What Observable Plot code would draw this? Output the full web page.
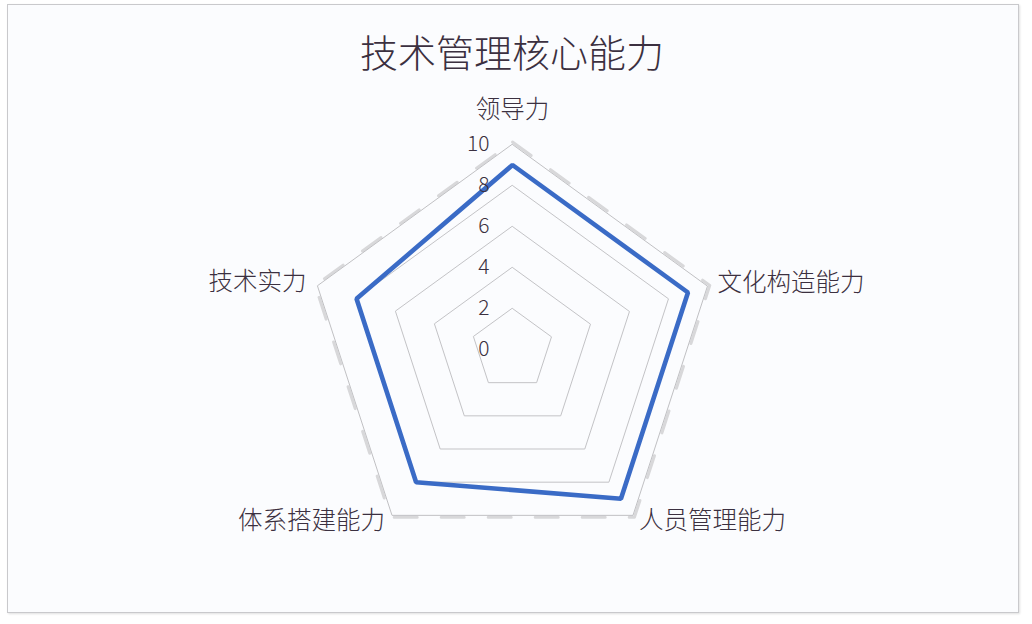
<!DOCTYPE html>
<html><head><meta charset="utf-8">
<script src="https://cdn.jsdelivr.net/npm/d3@7"></script>
<script src="https://cdn.jsdelivr.net/npm/@observablehq/plot@0.6"></script>
<style>
html,body{margin:0;padding:0;background:#ffffff;width:1032px;height:624px;overflow:hidden;}
#frame{position:absolute;left:7px;top:4px;width:1010px;height:607px;border:1px solid #c9c9cc;background:#fbfcfe;box-shadow:1px 1px 2px rgba(0,0,0,0.12);}
#title{position:absolute;left:0;top:26px;width:1024px;text-align:center;font-family:"Noto Sans CJK SC";font-size:38px;font-weight:300;color:#3b3040;line-height:50px;}
#chart{position:absolute;left:0;top:90px;}
</style></head>
<body>
<div id="frame"></div>
<div id="title">技术管理核心能力</div>
<div id="chart"></div>
<script>
const categories = ["领导力", "文化构造能力", "人员管理能力", "体系搭建能力", "技术实力"];
const values = [9, 9, 9, 8, 8];
const ticks = [0, 2, 4, 6, 8, 10];

const n = categories.length;
const ang = i => i * 2 * Math.PI / n;
const px = (r, i) => r * Math.sin(ang(i));
const py = (r, i) => r * Math.cos(ang(i));

const maxTick = d3.max(ticks);
const rings = ticks.filter(t => t > 0 && t < maxTick).flatMap(t => categories.map((c, i) => ({t, i})));
const outer = categories.map((c, i) => ({i}));
const series = categories.map((c, i) => ({c, i, v: values[i]}));

const labelStyle = [
  {dx: 0, dy: -34, anchor: "middle"},
  {dx: 10, dy: -3, anchor: "start"},
  {dx: 6, dy: 6, anchor: "start"},
  {dx: -7, dy: 6, anchor: "end"},
  {dx: -11, dy: -4, anchor: "end"}
];

const labelMarks = series.map((d, k) => Plot.text([d], {
  x: d => px(maxTick, d.i), y: d => py(maxTick, d.i), text: "c",
  dx: labelStyle[k].dx, dy: labelStyle[k].dy, textAnchor: labelStyle[k].anchor,
  fontSize: 24.5, fontWeight: 300, fill: "#3b3040"
}));

const chart = Plot.plot({
  width: 1032, height: 520,
  marginLeft: 307, marginRight: 315, marginTop: 54, marginBottom: 56,
  x: {domain: [-maxTick, maxTick], axis: null},
  y: {domain: [-maxTick, maxTick], axis: null},
  style: {background: "transparent", fontFamily: "'Noto Sans CJK SC', sans-serif", overflow: "visible"},
  marks: [
    Plot.line(rings, {x: d => px(d.t, d.i), y: d => py(d.t, d.i), z: "t", curve: "linear-closed", stroke: "#c3c3c6", strokeWidth: 1}),
    Plot.line(outer, {x: d => px(maxTick * 1.012, d.i), y: d => py(maxTick * 1.012, d.i), curve: "linear-closed", stroke: "#d8d8da", strokeWidth: 3, strokeDasharray: "23,24"}),
    Plot.line(outer, {x: d => px(maxTick, d.i), y: d => py(maxTick, d.i), curve: "linear-closed", stroke: "#c0c0c3", strokeWidth: 1}),
    Plot.line(series, {x: d => px(d.v, d.i), y: d => py(d.v, d.i), curve: "linear-closed", stroke: "#3a6bc6", strokeWidth: 4.6, strokeLinejoin: "miter"}),
    Plot.text(ticks, {x: () => 0, y: d => d, text: d => String(d), textAnchor: "end", dx: -23, fontSize: 21, fontWeight: 300, fill: "#3b3040"}),
    ...labelMarks
  ]
});
document.getElementById("chart").appendChild(chart);
</script>
</body></html>
